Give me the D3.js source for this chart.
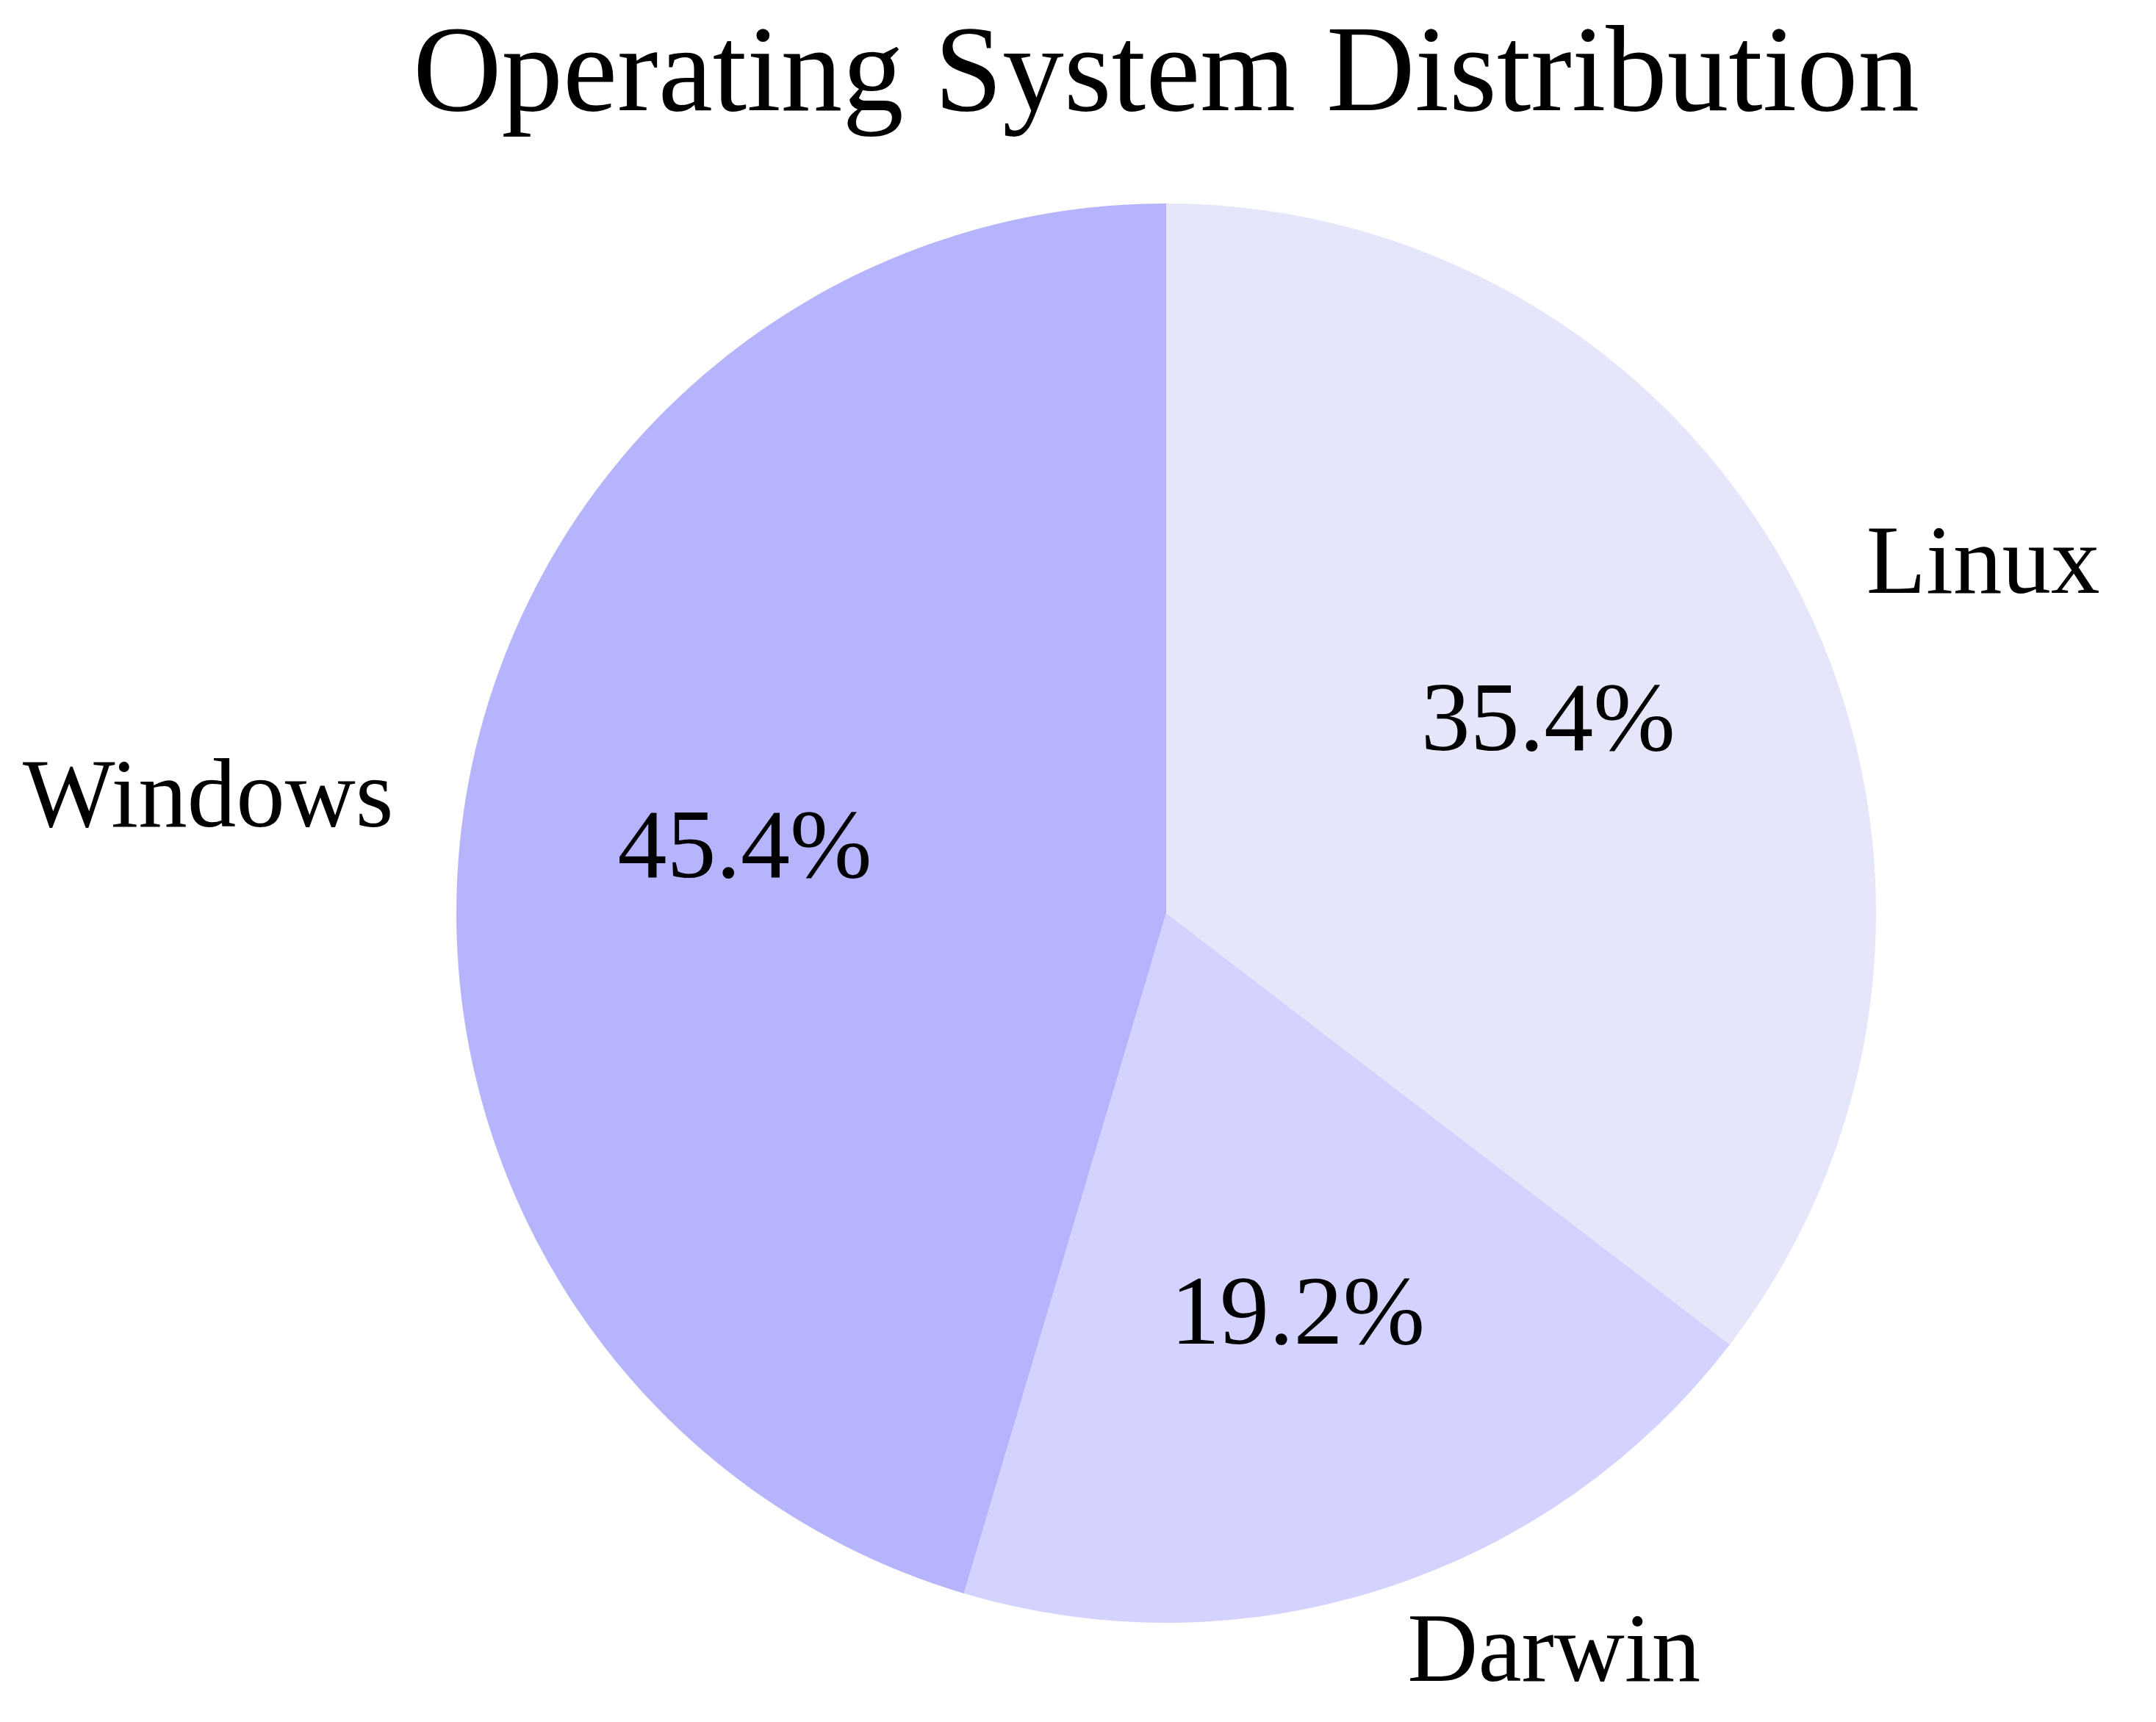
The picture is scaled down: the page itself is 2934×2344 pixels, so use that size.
<!DOCTYPE html>
<html>
<head>
<meta charset="utf-8">
<script src="https://cdn.jsdelivr.net/npm/d3@7"></script>
<style>
html,body{margin:0;padding:0;background:#fff;}
svg{display:block;}
text{font-family:"Liberation Serif","Times New Roman",serif;fill:#000;}
</style>
</head>
<body>
<script>
const categories = ["Linux", "Darwin", "Windows"];
const shares = [35.4, 19.2, 45.4];
const colors = ["#e6e6fa", "#d4d2fe", "#b6b4fc"];
const title = "Operating System Distribution";

const W = 2934, H = 2344;
const cx = 1587, cy = 1243, R = 966;
const labelFont = 133, pctFont = 134, titleFont = 167;

const svg = d3.select("body").append("svg").attr("width", W).attr("height", H);

svg.append("text")
  .attr("x", cx).attr("y", 150)
  .attr("text-anchor", "middle")
  .style("font-size", titleFont + "px")
  .text(title);

const data = categories.map((c, i) => ({name: c, value: shares[i], color: colors[i]}));
const pie = d3.pie().sort(null).value(d => d.value).startAngle(0).endAngle(2 * Math.PI);
const arcs = pie(data);

const arc = d3.arc().innerRadius(0).outerRadius(R);
const labelArc = d3.arc().innerRadius(R * 1.1).outerRadius(R * 1.1);
const pctArc = d3.arc().innerRadius(R * 0.6).outerRadius(R * 0.6);

const g = svg.append("g").attr("transform", `translate(${cx},${cy})`);

g.selectAll("path.slice").data(arcs).enter().append("path")
  .attr("class", "slice")
  .attr("d", arc)
  .attr("fill", d => d.data.color);

const total = d3.sum(shares);
const fmt = d3.format(".1f");

g.selectAll("text.pct").data(arcs).enter().append("text")
  .attr("class", "pct")
  .attr("x", d => pctArc.centroid(d)[0])
  .attr("y", d => pctArc.centroid(d)[1] + 0.26 * pctFont)
  .attr("text-anchor", "middle")
  .style("font-size", pctFont + "px")
  .text(d => fmt(d.data.value / total * 100) + "%");

g.selectAll("text.lbl").data(arcs).enter().append("text")
  .attr("class", "lbl")
  .attr("x", d => labelArc.centroid(d)[0])
  .attr("y", d => labelArc.centroid(d)[1] + 0.26 * labelFont)
  .attr("text-anchor", d => labelArc.centroid(d)[0] >= 0 ? "start" : "end")
  .style("font-size", labelFont + "px")
  .text(d => d.data.name);
</script>
</body>
</html>
